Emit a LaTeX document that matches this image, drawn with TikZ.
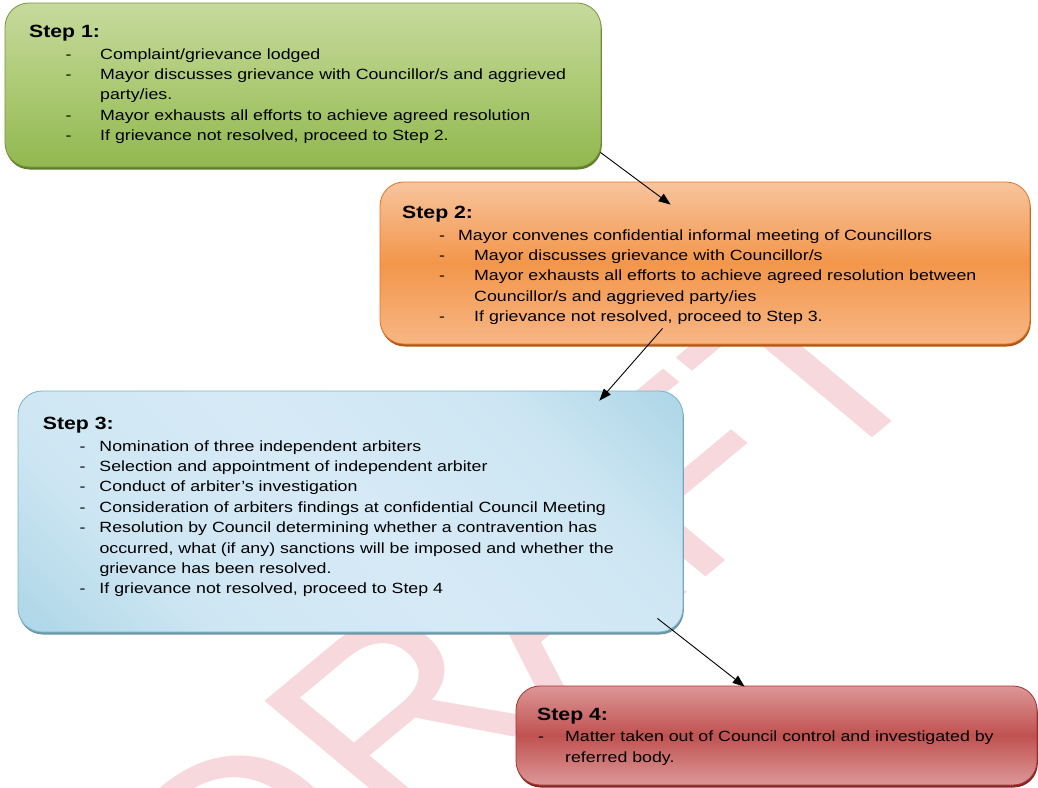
\documentclass[tikz,border=0pt]{standalone}
\usepackage{fontspec}
\usetikzlibrary{arrows.meta,shadows}
\newfontfamily\wfont[FakeStretch=1.2]{Liberation Sans}
\newfontfamily\wmfont{Liberation Sans}
\newcommand\lnfont{\wfont\fontsize{14.8pt}{17pt}\selectfont}
\newcommand\hdfont{\wfont\bfseries\fontsize{17.7pt}{20pt}\selectfont}
\definecolor{wmc}{RGB}{246,216,221}
\definecolor{gA}{RGB}{199,218,158}
\definecolor{gB}{RGB}{172,202,116}
\definecolor{gC}{RGB}{146,184,80}
\definecolor{gD}{RGB}{118,150,58}
\definecolor{gS}{RGB}{96,125,45}
\definecolor{oA}{RGB}{248,196,158}
\definecolor{oB}{RGB}{243,150,74}
\definecolor{oC}{RGB}{247,182,132}
\definecolor{oD}{RGB}{222,118,40}
\definecolor{oS}{RGB}{178,88,20}
\definecolor{bA}{RGB}{140,199,219}
\definecolor{bB}{RGB}{206,230,243}
\definecolor{bC}{RGB}{214,234,246}
\definecolor{bD}{RGB}{120,180,200}
\definecolor{bS}{RGB}{110,150,165}
\definecolor{rA}{RGB}{220,150,150}
\definecolor{rB}{RGB}{192,82,80}
\definecolor{rC}{RGB}{220,152,152}
\definecolor{rD}{RGB}{170,50,50}
\definecolor{rS}{RGB}{130,40,40}
\pgfdeclarehorizontalshading{bluesh}{100bp}{color(0bp)=(bA); color(30bp)=(bB); color(50bp)=(bC); color(70bp)=(bB); color(100bp)=(bA)}
\tikzset{
  box/.style={rounded corners=24pt, inner sep=0pt, line width=0.8pt},
  hd/.style={anchor=base west, inner sep=0pt, font=\hdfont},
  ln/.style={anchor=base west, inner sep=0pt, font=\lnfont},
  arr/.style={line width=0.9pt, -{Triangle[length=12pt,width=9pt]}}
}
\begin{document}
\begin{tikzpicture}[x=1pt,y=-1pt]
\useasboundingbox[fill=white] (0,0) rectangle (1038,787);
% watermark
\begin{scope}[cm={0.849,0.707,-0.849,0.707,(240,965)}]
\node[transform shape, anchor=base west, inner sep=0pt, text=wmc,
      font=\wmfont\fontsize{250pt}{250pt}\selectfont] (wm) at (0,0) {DRAFT};
\end{scope}
% boxes
\node[box, minimum width=596pt, minimum height=164pt, draw=gD,
      top color=gA, bottom color=gC, middle color=gB,
      general shadow={fill=gS, shadow xshift=0.8pt, shadow yshift=-2.5pt}] (s1) at (303,85) {};
\node[box, minimum width=650pt, minimum height=162pt, draw=oD,
      top color=oA, bottom color=oC, middle color=oB,
      general shadow={fill=oS, shadow xshift=0.8pt, shadow yshift=-2.5pt}] (s2) at (705,263) {};
\node[box, minimum width=665pt, minimum height=241pt, draw=bD,
      shade, shading=bluesh, shading angle=45,
      general shadow={fill=bS, shadow xshift=0.8pt, shadow yshift=-2.5pt}] (s3) at (350.5,511.5) {};
\node[box, minimum width=521pt, minimum height=99pt, draw=rD,
      top color=rA, bottom color=rC, middle color=rB,
      general shadow={fill=rS, shadow xshift=0.8pt, shadow yshift=-2.5pt}] (s4) at (776.5,735.5) {};
% step 1 text
\node[hd] (s1h) at (29,37.5) {Step 1:};
\node[ln] (s1a) at (65.5,59) {\makebox[34.5pt][l]{-}Complaint/grievance lodged};
\node[ln] (s1b) at (65.5,79.4) {\makebox[34.5pt][l]{-}Mayor discusses grievance with Councillor/s and aggrieved};
\node[ln] (s1c) at (100,99.8) {party/ies.};
\node[ln] (s1d) at (65.5,120.2) {\makebox[34.5pt][l]{-}Mayor exhausts all efforts to achieve agreed resolution};
\node[ln] (s1e) at (65.5,140.6) {\makebox[34.5pt][l]{-}If grievance not resolved, proceed to Step 2.};
% step 2 text
\node[hd] (s2h) at (402,218.5) {Step 2:};
\node[ln] (s2a) at (439,240) {\makebox[19pt][l]{-}Mayor convenes confidential informal meeting of Councillors};
\node[ln] (s2b) at (439,260.4) {\makebox[35pt][l]{-}Mayor discusses grievance with Councillor/s};
\node[ln] (s2c) at (439,280.8) {\makebox[35pt][l]{-}Mayor exhausts all efforts to achieve agreed resolution between};
\node[ln] (s2d) at (474,301.2) {Councillor/s and aggrieved party/ies};
\node[ln] (s2e) at (439,321.6) {\makebox[35pt][l]{-}If grievance not resolved, proceed to Step 3.};
% step 3 text
\node[hd] (s3h) at (42.7,429.3) {Step 3:};
\node[ln] (s3a) at (79.5,451) {\makebox[19.8pt][l]{-}Nomination of three independent arbiters};
\node[ln] (s3b) at (79.5,471.4) {\makebox[19.8pt][l]{-}Selection and appointment of independent arbiter};
\node[ln] (s3c) at (79.5,491.8) {\makebox[19.8pt][l]{-}Conduct of arbiter’s investigation};
\node[ln] (s3d) at (79.5,512.2) {\makebox[19.8pt][l]{-}Consideration of arbiters findings at confidential Council Meeting};
\node[ln] (s3e) at (79.5,532.6) {\makebox[19.8pt][l]{-}Resolution by Council determining whether a contravention has};
\node[ln] (s3f) at (99.3,553) {occurred, what (if any) sanctions will be imposed and whether the};
\node[ln] (s3g) at (99.3,573.4) {grievance has been resolved.};
\node[ln] (s3i) at (79.5,593.8) {\makebox[19.8pt][l]{-}If grievance not resolved, proceed to Step 4};
% step 4 text
\node[hd] (s4h) at (537,720) {Step 4:};
\node[ln] (s4a) at (538,741.5) {\makebox[27pt][l]{-}Matter taken out of Council control and investigated by};
\node[ln] (s4b) at (565,762) {referred body.};
% connectors
\coordinate (a1s) at ([shift={(-1pt,15pt)}]s1.south east);
\coordinate (a1e) at ([shift={(-34pt,-23pt)}]s2.north west);
\path (a1e) ++(325pt,0pt) coordinate (a1t);
\coordinate (a2s) at ([shift={(283pt,16pt)}]s2.south west);
\coordinate (a2e) at ([shift={(-84pt,-10pt)}]s3.north east);
\coordinate (a3s) at ([shift={(-26pt,14pt)}]s3.south east);
\coordinate (a3e) at ([shift={(229pt,-1pt)}]s4.north west);
\draw[arr] (a1s) -- (a1t);
\draw[arr] (a2s) -- (a2e);
\draw[arr] (a3s) -- (a3e);
\end{tikzpicture}
\end{document}
